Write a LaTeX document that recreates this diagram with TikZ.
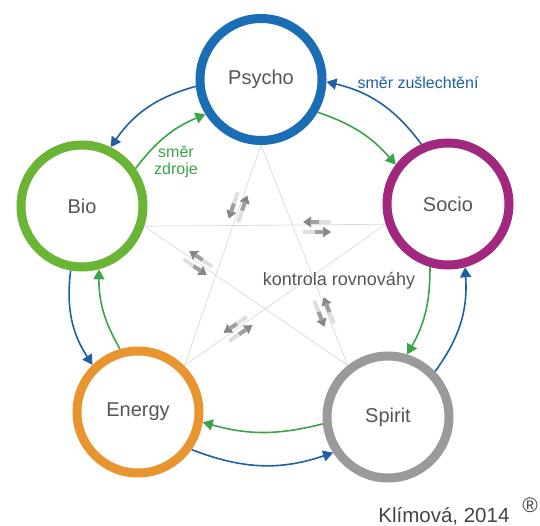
\documentclass[tikz,border=0pt]{standalone}
\usepackage{fontspec}
\setmainfont{Liberation Sans}
\usetikzlibrary{arrows.meta}

\definecolor{psychoblue}{HTML}{1B6DB5}
\definecolor{biogreen}{HTML}{6BB536}
\definecolor{sociopurple}{HTML}{A1277F}
\definecolor{energyorange}{HTML}{E8952F}
\definecolor{spiritgray}{HTML}{9A9A9A}
\definecolor{refineblue}{HTML}{1F5FA3}
\definecolor{sourcegreen}{HTML}{3AA548}
\definecolor{labelgray}{HTML}{555555}

\begin{document}
\begin{tikzpicture}[x=1pt,y=1pt,
    ring/.style={circle, draw, line width=9pt, minimum size=122pt, fill=white,
        text=labelgray, font=\fontsize{20}{24}\selectfont},
    refine/.style={draw=refineblue, line width=1.6pt,
        -{Triangle[length=10pt,width=11pt]}, bend right=20},
    source/.style={draw=sourcegreen, line width=1.6pt,
        -{Triangle[length=10pt,width=11pt]}, bend left=15},
    star/.style={draw=gray!30, line width=0.7pt},
    pair/.style={line width=4pt, draw=gray!25,
        -{Triangle[length=8pt,width=10pt,color=gray!95]}},
    pairdark/.style={line width=4pt, draw=gray!75}]
    \useasboundingbox (0,0) rectangle (540,525);

    % the five rings
    \node[ring, draw=psychoblue] (psycho) at (261,445.5) {Psycho};
    \node[ring, draw=biogreen] (bio) at (82,319) {Bio};
    \node[ring, draw=sociopurple] (socio) at (448,321) {Socio};
    \node[ring, draw=energyorange] (energy) at (138,113) {Energy};
    \node[ring, draw=spiritgray] (spirit) at (388,108) {Spirit};

    % star of control lines
    \draw[star] (psycho.south) -- (energy.45);
    \draw[star] (psycho.south) -- (spirit.128);
    \draw[star] (bio.-18) -- (socio.198);
    \draw[star] (bio.-18) -- (spirit.128);
    \draw[star] (socio.198) -- (energy.45);

    % outer and inner cycles
    \foreach \a/\b/\c/\d in {socio/114/psycho/-2, psycho/186/bio/64, bio/260/energy/134,
        energy/-35/spirit/213, spirit/44/socio/-75}
        \draw[refine] (\a.\b) to (\c.\d);
    \foreach \a/\b/\c/\d in {bio/35/psycho/212, psycho/-30/socio/143, socio/254/spirit/73,
        spirit/186/energy/-9, energy/106/bio/-75}
        \draw[source] (\a.\b) to (\c.\d);

    % double arrows on the star
    \foreach \x/\y/\r in {238/318/-108.8, 317/298/0, 198/262/-34.3, 238/196/34.6, 324/213/-68.8} {
        \begin{scope}[shift={(\x,\y)}, rotate=\r]
            \draw[pair] (14,5) -- (-14,5);
            \draw[pairdark] (2,5) -- (-7,5);
            \draw[pair] (-14,-5) -- (14,-5);
            \draw[pairdark] (-2,-5) -- (7,-5);
        \end{scope}
    }

    \node[text=refineblue, font=\fontsize{16}{19}\selectfont] (refinelabel) at (418,442) {směr zušlechtění};
    \node[text=sourcegreen, align=center, font=\fontsize{16}{17}\selectfont] (sourcelabel) at (176,363) {směr\\zdroje};
    \node[text=labelgray, font=\fontsize{18}{22}\selectfont] (control) at (339,244) {kontrola rovnováhy};
    \node[anchor=base east, text=labelgray!80!black, font=\fontsize{20.5}{24}\selectfont] (author) at (513,3) {Klímová, 2014};
    \node[text=labelgray!80!black, font=\fontsize{21}{24}\selectfont] (reg) at (530,20) {\textregistered};
\end{tikzpicture}
\end{document}
